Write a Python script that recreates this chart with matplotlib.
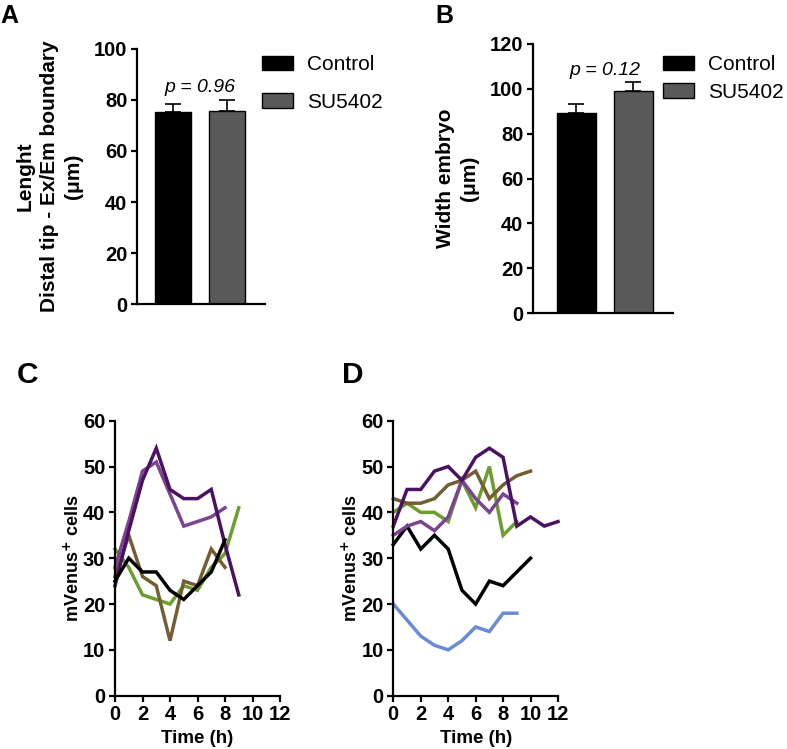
import matplotlib
matplotlib.use("Agg")
import matplotlib.pyplot as plt
from matplotlib.patches import Patch

plt.rcParams['font.family'] = ['Liberation Sans', 'DejaVu Sans']

# ---------------- data ----------------
groups = ["Control", "SU5402"]
bar_colors = ["#000000", "#595959"]

lenA_mean = [75.3, 75.6]
lenA_err = [3.2, 4.5]
pA = "p = 0.96"

widB_mean = [89.3, 98.8]
widB_err = [3.8, 4.2]
pB = "p = 0.12"

line_colors = {"dark_purple": "#4b1263", "light_purple": "#7b4390",
               "green": "#6b9e2e", "brown": "#735e33",
               "black": "#000000", "blue": "#6a8bd6"}

# Panel C time courses (hours, mVenus+ cells)
C_time_9 = [0, 1, 2, 3, 4, 5, 6, 7, 8, 9]
C_time_8 = [0, 1, 2, 3, 4, 5, 6, 7, 8]
C_dark_purple = [24, 36, 47, 54, 45, 43, 43, 45, 33, 22]
C_light_purple = [28, 38, 49, 51, 44, 37, 38, 39, 41]
C_green = [32, 28, 22, 21, 20, 24, 23, 28, 31, 41]
C_brown = [26, 35, 26, 24, 12, 25, 24, 32, 28]
C_black = [25, 30, 27, 27, 23, 21, 24, 27, 34]

# Panel D time courses
D_time_12 = [0, 1, 2, 3, 4, 5, 6, 7, 8, 9, 10, 11, 12]
D_time_10 = [0, 1, 2, 3, 4, 5, 6, 7, 8, 9, 10]
D_time_9 = [0, 1, 2, 3, 4, 5, 6, 7, 8, 9]
D_dark_purple = [37, 45, 45, 49, 50, 47, 52, 54, 52, 37, 39, 37, 38]
D_brown = [43, 42, 42, 43, 46, 47, 49, 43, 46, 48, 49]
D_green = [40, 42, 40, 40, 38, 47, 41, 50, 35, 38]
D_light_purple = [35, 37, 38, 36, 39, 47, 43, 40, 44, 42]
D_black = [33, 37, 32, 35, 32, 23, 20, 25, 24, 27, 30]
D_blue = [20, 16.5, 13, 11, 10, 12, 15, 14, 18, 18]

# ---------------- figure ----------------
W, H = 787, 749
fig = plt.figure(figsize=(W / 100, H / 100), dpi=100)


def px_axes(l, r, t, b):
    return fig.add_axes([l / W, 1 - b / H, (r - l) / W, (b - t) / H])


TICK_FS = 14.5
AX_LW = 1.6


def style(ax):
    for s in ("top", "right"):
        ax.spines[s].set_visible(False)
    for s in ("left", "bottom"):
        ax.spines[s].set_linewidth(AX_LW)
    ax.tick_params(direction="out", length=4.5, width=AX_LW, labelsize=TICK_FS,
                   pad=2.5)
    for lab in ax.get_xticklabels() + ax.get_yticklabels():
        lab.set_fontweight("bold")


def bar_panel(ax, means, errs, ylim, yticks, ptxt, py, xlim, width):
    x = [0, 1]
    ax.bar(x, means, width=width, color=bar_colors, edgecolor="black",
           linewidth=1.0, zorder=2)
    ax.errorbar(x, means, yerr=[[0, 0], errs], fmt="none", ecolor="black",
                elinewidth=1.2, capsize=6, capthick=1.2, zorder=1)
    ax.set_xlim(*xlim)
    ax.set_ylim(*ylim)
    ax.set_yticks(yticks)
    ax.set_xticks([])
    style(ax)
    ax.text(0.5, py, ptxt, ha="center", va="bottom", fontsize=14,
            style="italic")


# Panel A
axA = px_axes(137, 265, 48.7, 304.3)
bar_panel(axA, lenA_mean, lenA_err, (0, 100), range(0, 101, 20), pA, 81.5,
          (-0.66, 1.69), 0.66)
axA.set_ylabel("Lenght\nDistal tip - Ex/Em boundary\n(\u03bcm)", fontsize=15,
               fontweight="bold", labelpad=8, linespacing=1.35)

# Panel B
axB = px_axes(533, 673, 43.7, 313.3)
bar_panel(axB, widB_mean, widB_err, (0, 120), range(0, 121, 20), pB, 104.5,
          (-0.763, 1.693), 0.684)
axB.set_ylabel("Width embryo\n(\u03bcm)", fontsize=15, fontweight="bold",
               labelpad=8, linespacing=1.3)

handles = [Patch(facecolor=c, edgecolor="black", linewidth=1.0)
           for c in bar_colors]
axA.legend(handles, groups, loc="upper left", bbox_to_anchor=(254 / W, 1 - 47 / H),
           bbox_transform=fig.transFigure, frameon=False, fontsize=15,
           handlelength=1.45, handleheight=0.7, labelspacing=0.9,
           handletextpad=0.7, borderaxespad=0)
axB.legend(handles, groups, loc="upper left", bbox_to_anchor=(655 / W, 1 - 47 / H),
           bbox_transform=fig.transFigure, frameon=False, fontsize=15,
           handlelength=1.45, handleheight=0.7, labelspacing=0.4,
           handletextpad=0.7, borderaxespad=0)

LW = 2.5


def line_panel(ax, series):
    for t, v, c in series:
        ax.plot(t, v, color=line_colors[c], lw=LW, solid_joinstyle="miter",
                clip_on=False)
    ax.set_xlim(0, 12)
    ax.set_ylim(0, 60)
    ax.set_xticks(range(0, 13, 2))
    ax.set_yticks(range(0, 61, 10))
    style(ax)
    ax.set_xlabel("Time (h)", fontsize=13.5, fontweight="bold", labelpad=4)
    ax.set_ylabel("mVenus$^{\\mathbf{+}}$ cells", fontsize=13,
                  fontweight="bold", labelpad=0.5)


axC = px_axes(115, 280, 420.7, 695.7)
line_panel(axC, [
    (C_time_9, C_green, "green"),
    (C_time_8, C_brown, "brown"),
    (C_time_8, C_light_purple, "light_purple"),
    (C_time_9, C_dark_purple, "dark_purple"),
    (C_time_8, C_black, "black"),
])

axD = px_axes(393.3, 558, 420.7, 695.7)
line_panel(axD, [
    (D_time_9, D_blue, "blue"),
    (D_time_10, D_black, "black"),
    (D_time_9, D_green, "green"),
    (D_time_10, D_brown, "brown"),
    (D_time_9, D_light_purple, "light_purple"),
    (D_time_12, D_dark_purple, "dark_purple"),
])

# panel letters
for letter, x, y, fs in [("A", 0, 23, 18), ("B", 435, 23, 18),
                         ("C", 17, 383, 21.5), ("D", 342, 383, 21.5)]:
    fig.text(x / W, 1 - y / H, letter, fontsize=fs, fontweight="bold",
             ha="left", va="baseline")

fig.savefig("out.png", dpi=100)
